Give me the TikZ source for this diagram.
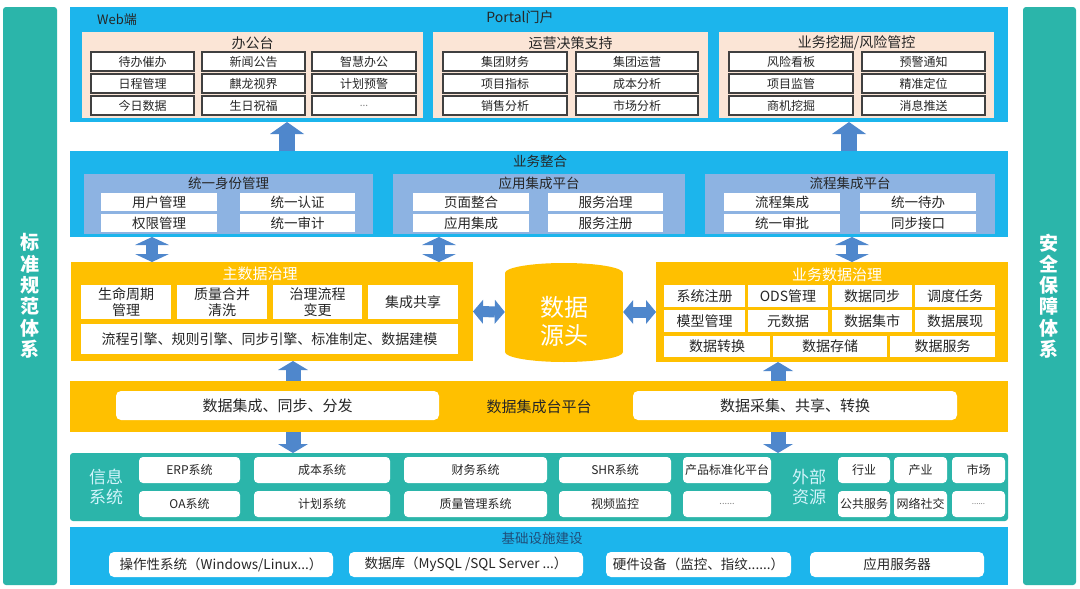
\documentclass[tikz,border=0pt]{standalone}
\usepackage{fontspec}
\setmainfont{Noto Sans CJK SC}
\usetikzlibrary{arrows.meta}
\definecolor{cBlue}{HTML}{1CB5EC}
\definecolor{cBeige}{HTML}{FBE5D6}
\definecolor{cBorder}{HTML}{404040}
\definecolor{cGrey}{HTML}{8DB3E2}
\definecolor{cOrange}{HTML}{FFC000}
\definecolor{cTeal}{HTML}{2BB5AA}
\definecolor{cArrow}{HTML}{4F87CC}
\definecolor{cText}{HTML}{262626}
\definecolor{cPale}{HTML}{D2F4FB}
\definecolor{cDkBlue}{HTML}{1F4E79}
\newcommand\fsz[2]{\fontsize{#1}{#2}\selectfont}
\newcommand\mybox[7]{\node[#2,anchor=north west,inner sep=0pt,outer sep=0pt,minimum width={(#5)-(#3)},minimum height={(#6)-(#4)}] (#1) at (#3,#4) {#7};}
\tikzset{
  bluebg/.style={fill=cBlue},
  beigebg/.style={fill=cBeige},
  greybg/.style={fill=cGrey},
  orangebg/.style={fill=cOrange},
  tealbg/.style={fill=cTeal,rounded corners=3pt},
  pitem/.style={draw=cBorder,line width=1.3pt,fill=white,font=\fsz{12}{14},text=cText},
  gitem/.style={fill=white,font=\fsz{13.5}{16},text=cText},
  oitem/.style={fill=white,font=\fsz{14}{16},text=cText,align=center},
  sitem/.style={fill=white,rounded corners=4pt,font=\fsz{12}{14},text=cText},
  bitem/.style={fill=white,rounded corners=5pt,font=\fsz{14}{16},text=cText},
  ttl/.style={font=\fsz{14}{16},text=cText,inner sep=0pt},
  wttl/.style={font=\fsz{15}{17},text=white,inner sep=0pt},
  vlabel/.style={font=\bfseries\fsz{19}{21.3},text=white,align=center,inner sep=0pt},
  plabel/.style={font=\fsz{17}{20},text=cPale,align=center,inner sep=0pt},
  uparr/.style={draw=cArrow,line width=16pt,-{Triangle[length=12pt,width=34pt,line width=0pt]}},
  sarr/.style={draw=cArrow,line width=15pt,-{Triangle[length=9pt,width=30pt,line width=0pt]}},
  dvarr/.style={draw=cArrow,line width=12pt,{Triangle[length=8pt,width=34pt,line width=0pt]}-{Triangle[length=8pt,width=34pt,line width=0pt]}},
  harr/.style={draw=cArrow,line width=11pt,{Triangle[length=10pt,width=24pt,line width=0pt]}-{Triangle[length=10pt,width=24pt,line width=0pt]}},
}
\begin{document}
\begin{tikzpicture}[x=1pt,y=-1pt]
\useasboundingbox (0,0) rectangle (1080,589);
\fill[white] (0,0) rectangle (1080,589);
% side bars
\mybox{lbar}{tealbg}{3}{7}{57}{585}{}
\mybox{rbar}{tealbg}{1023}{7}{1076}{585}{}
\node[vlabel] (ltext) at (30,296) {标\\准\\规\\范\\体\\系};
\node[vlabel] (rtext) at (1049,296) {安\\全\\保\\障\\体\\系};
% ===== Portal
\mybox{portal}{bluebg}{70}{7}{1008}{122}{}
\node[font=\fsz{13}{15},text=cText,anchor=west,inner sep=0pt] (web) at (97,20) {Web端};
\node[ttl] (portalt) at (520,17) {Portal门户};
\mybox{p1}{beigebg}{82}{32}{423}{118}{}
\mybox{p2}{beigebg}{433}{32}{708}{118}{}
\mybox{p3}{beigebg}{719}{32}{994}{118}{}
\node[ttl] (p1t) at (252.5,43) {办公台};
\node[ttl] (p2t) at (570.5,43) {运营决策支持};
\node[ttl] (p3t) at (856.5,43) {业务挖掘/风险管控};
\mybox{p1a}{pitem}{91}{52}{194}{71}{待办催办}
\mybox{p1b}{pitem}{202}{52}{305}{71}{新闻公告}
\mybox{p1c}{pitem}{312}{52}{416}{71}{智慧办公}
\mybox{p1d}{pitem}{91}{74}{194}{93}{日程管理}
\mybox{p1e}{pitem}{202}{74}{305}{93}{麒龙视界}
\mybox{p1f}{pitem}{312}{74}{416}{93}{计划预警}
\mybox{p1g}{pitem}{91}{96}{194}{115}{今日数据}
\mybox{p1h}{pitem}{202}{96}{305}{115}{生日祝福}
\mybox{p1i}{pitem}{312}{96}{416}{115}{\textcolor{gray}{\fsz{10}{12}...}}
\mybox{p2a}{pitem}{443}{52}{567}{71}{集团财务}
\mybox{p2b}{pitem}{576}{52}{698}{71}{集团运营}
\mybox{p2c}{pitem}{443}{74}{567}{93}{项目指标}
\mybox{p2d}{pitem}{576}{74}{698}{93}{成本分析}
\mybox{p2e}{pitem}{443}{96}{567}{115}{销售分析}
\mybox{p2f}{pitem}{576}{96}{698}{115}{市场分析}
\mybox{p3a}{pitem}{729}{52}{853}{71}{风险看板}
\mybox{p3b}{pitem}{862}{52}{985}{71}{预警通知}
\mybox{p3c}{pitem}{729}{74}{853}{93}{项目监管}
\mybox{p3d}{pitem}{862}{74}{985}{93}{精准定位}
\mybox{p3e}{pitem}{729}{96}{853}{115}{商机挖掘}
\mybox{p3f}{pitem}{862}{96}{985}{115}{消息推送}
% ===== 业务整合
\mybox{ywzh}{bluebg}{70}{151}{1008}{237}{}
\node[font=\fsz{13.5}{16},text=cText,inner sep=0pt] (ywzht) at (540,161) {业务整合};
\mybox{g1}{greybg}{84}{174}{373}{234}{}
\mybox{g2}{greybg}{393}{174}{685}{234}{}
\mybox{g3}{greybg}{705}{174}{995}{234}{}
\node[font=\fsz{13.5}{16},text=cText,inner sep=0pt] (g1t) at (228.5,183) {统一身份管理};
\node[font=\fsz{13.5}{16},text=cText,inner sep=0pt] (g2t) at (539,183) {应用集成平台};
\node[font=\fsz{13.5}{16},text=cText,inner sep=0pt] (g3t) at (850,183) {流程集成平台};
\mybox{g1a}{gitem}{101}{193}{217}{211}{用户管理}
\mybox{g1b}{gitem}{240}{193}{355}{211}{统一认证}
\mybox{g1c}{gitem}{101}{214}{217}{232}{权限管理}
\mybox{g1d}{gitem}{240}{214}{355}{232}{统一审计}
\mybox{g2a}{gitem}{413}{193}{529}{211}{页面整合}
\mybox{g2b}{gitem}{548}{193}{663}{211}{服务治理}
\mybox{g2c}{gitem}{413}{214}{529}{232}{应用集成}
\mybox{g2d}{gitem}{548}{214}{663}{232}{服务注册}
\mybox{g3a}{gitem}{724}{193}{840}{211}{流程集成}
\mybox{g3b}{gitem}{860}{193}{976}{211}{统一待办}
\mybox{g3c}{gitem}{724}{214}{840}{232}{统一审批}
\mybox{g3d}{gitem}{860}{214}{976}{232}{同步接口}
% ===== 主数据治理
\mybox{zsj}{orangebg}{71}{262}{473}{361}{}
\node[wttl] (zsjt) at (260,274) {主数据治理};
\mybox{z1}{oitem}{81}{285}{171}{319}{生命周期\\管理}
\mybox{z2}{oitem}{177}{285}{267}{319}{质量合并\\清洗}
\mybox{z3}{oitem}{273}{285}{362}{319}{治理流程\\变更}
\mybox{z4}{oitem}{368}{285}{458}{319}{集成共享}
\mybox{z5}{oitem}{81}{324}{458}{354}{流程引擎、规则引擎、同步引擎、标准制定、数据建模}
% ===== 数据源头
\fill[cOrange] (564,273) ellipse [x radius=59, y radius=10];
\fill[cOrange] (505,273) rectangle (623,352);
\fill[cOrange] (564,352) ellipse [x radius=59, y radius=10];
\node[minimum width=118pt,minimum height=99pt,inner sep=0pt] (src) at (564,312) {};
\node[font=\fsz{24}{28},text=white,align=center,inner sep=0pt] (srct) at (564,321) {数据\\源头};
% ===== 业务数据治理
\mybox{ywsj}{orangebg}{656}{262}{1008}{362}{}
\node[wttl] (ywsjt) at (837,275) {业务数据治理};
\mybox{y1}{oitem}{664}{285}{745}{307}{系统注册}
\mybox{y2}{oitem}{748}{285}{828}{307}{ODS管理}
\mybox{y3}{oitem}{832}{285}{912}{307}{数据同步}
\mybox{y4}{oitem}{915}{285}{995}{307}{调度任务}
\mybox{y5}{oitem}{664}{310}{745}{332}{模型管理}
\mybox{y6}{oitem}{748}{310}{828}{332}{元数据}
\mybox{y7}{oitem}{832}{310}{912}{332}{数据集市}
\mybox{y8}{oitem}{915}{310}{995}{332}{数据展现}
\mybox{y9}{oitem}{664}{336}{770}{357}{数据转换}
\mybox{y10}{oitem}{773}{336}{887}{357}{数据存储}
\mybox{y11}{oitem}{890}{336}{995}{357}{数据服务}
% ===== 数据集成台平台
\mybox{djc}{orangebg}{70}{381}{1008}{432}{}
\mybox{djc1}{bitem}{116}{391}{439}{420}{\fsz{15}{17}数据集成、同步、分发}
\mybox{djc2}{bitem}{633}{391}{957}{420}{\fsz{15}{17}数据采集、共享、转换}
\node[font=\fsz{15}{17},text=cText,inner sep=0pt] (djct) at (539,407) {数据集成台平台};
% ===== 信息系统
\mybox{info}{tealbg}{70}{453}{1008}{521}{}
\node[plabel] (infot) at (106,487) {信息\\系统};
\node[plabel] (extt) at (809,487) {外部\\资源};
\mybox{s1}{sitem}{139}{457}{240}{483}{ERP系统}
\mybox{s2}{sitem}{254}{457}{390}{483}{成本系统}
\mybox{s3}{sitem}{404}{457}{547}{483}{财务系统}
\mybox{s4}{sitem}{559}{457}{671}{483}{SHR系统}
\mybox{s5}{sitem}{683}{457}{771}{483}{产品标准化平台}
\mybox{s6}{sitem}{139}{491}{240}{517}{OA系统}
\mybox{s7}{sitem}{254}{491}{390}{517}{计划系统}
\mybox{s8}{sitem}{404}{491}{547}{517}{质量管理系统}
\mybox{s9}{sitem}{559}{491}{671}{517}{视频监控}
\mybox{s10}{sitem}{683}{491}{771}{517}{\textcolor{gray}{\fsz{9}{11}......}}
\mybox{e1}{sitem}{838}{457}{890}{483}{行业}
\mybox{e2}{sitem}{894}{457}{947}{483}{产业}
\mybox{e3}{sitem}{952}{457}{1005}{483}{市场}
\mybox{e4}{sitem}{838}{491}{890}{517}{公共服务}
\mybox{e5}{sitem}{894}{491}{947}{517}{网络社交}
\mybox{e6}{sitem}{952}{491}{1005}{517}{\textcolor{gray}{\fsz{8}{10}......}}
% ===== 基础设施建设
\mybox{jc}{bluebg}{70}{527}{1008}{585}{}
\node[font=\fsz{13.5}{16},text=cDkBlue,inner sep=0pt] (jct) at (542,538) {基础设施建设};
\mybox{b1}{bitem}{109}{552}{333}{577}{\fsz{13.5}{16}操作性系统（Windows/Linux...）}
\mybox{b2}{bitem}{349}{552}{583}{577}{\fsz{13.5}{16}数据库（MySQL /SQL Server ...）}
\mybox{b3}{bitem}{606}{552}{791}{577}{\fsz{13.5}{16}硬件设备（监控、指纹......）}
\mybox{b4}{bitem}{810}{552}{984}{577}{\fsz{13.5}{16}应用服务器}
% ===== arrows
\coordinate (xa) at (287,0);
\coordinate (xb) at (849,0);
\coordinate (xc) at (152,0);
\coordinate (xd) at (439,0);
\coordinate (xe) at (852,0);
\coordinate (xf) at (293,0);
\coordinate (xg) at (778,0);
\draw[uparr] (ywzh.north -| xa) -- (portal.south -| xa);
\draw[uparr] (ywzh.north -| xb) -- (portal.south -| xb);
\draw[dvarr] (ywzh.south -| xc) -- (zsj.north -| xc);
\draw[dvarr] (ywzh.south -| xd) -- (zsj.north -| xd);
\draw[dvarr] (ywzh.south -| xe) -- (ywsj.north -| xe);
\draw[harr] (zsj.east) -- (src.west);
\draw[harr] (src.east) -- (ywsj.west);
\draw[sarr] (djc.north -| xf) -- (zsj.south -| xf);
\draw[sarr] (djc.north -| xg) -- (ywsj.south -| xg);
\draw[sarr] (djc.south -| xf) -- (info.north -| xf);
\draw[sarr] (djc.south -| xg) -- (info.north -| xg);
\end{tikzpicture}
\end{document}
